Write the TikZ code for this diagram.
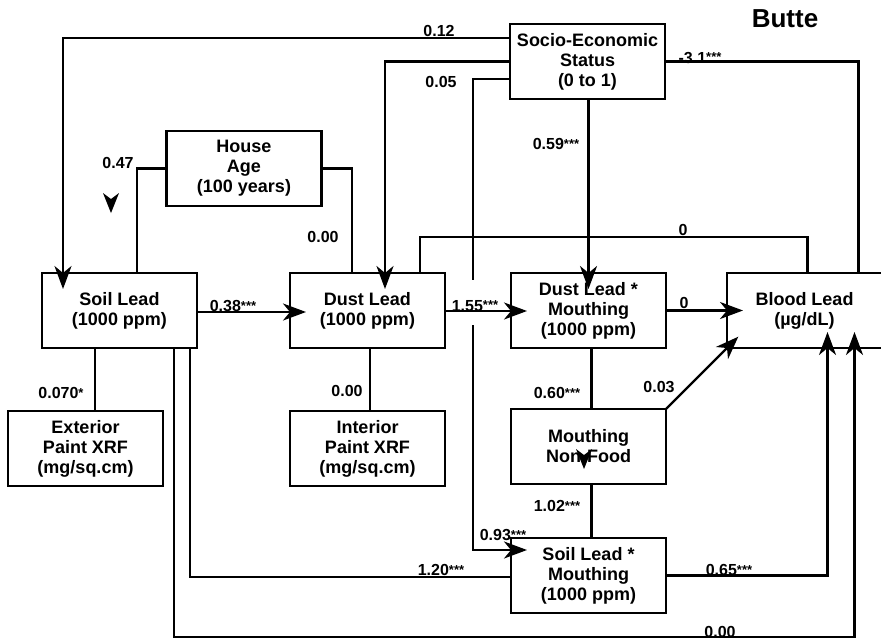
\documentclass[tikz,border=0pt]{standalone}
\usepackage{fontspec}
\setmainfont{Liberation Sans}
\usetikzlibrary{arrows.meta,positioning}
\newcommand{\sig}[1]{\raisebox{1.5pt}{\fontsize{13}{13}\selectfont #1}}

\begin{document}
\begin{tikzpicture}[
  x=1pt, y=-1pt,
  box/.style={draw,line width=2.4pt,minimum width=155pt,minimum height=75pt,inner sep=0pt,outer sep=0pt,align=center,font=\fontsize{18}{20}\selectfont\bfseries},
  lbl/.style={inner sep=0pt,font=\fontsize{16}{16}\selectfont\bfseries},
  ln/.style={line width=2.4pt},
  arr/.style={line width=2.4pt,-{Stealth[length=23pt,width=17pt,inset=7pt]},shorten >=-16pt},
  tiphead/.pic={\fill (-8,-20) -- (0,0) -- (8,-20) -- (0,-14) -- cycle;},
]
\useasboundingbox (0,0) rectangle (881,640);

\node[box] (soil) at (119.5,310.5) {Soil Lead\\(1000 ppm)};
\node[box, right=93pt of soil] (dust) {Dust Lead\\(1000 ppm)};
\node[box, right=66pt of dust] (dlm) {Dust Lead *\\Mouthing\\(1000 ppm)};
\node[box, right=61pt of dlm] (blood) {Blood Lead\\(µg/dL)};
\node[box] (ses) at (587.5,61.5) {Socio-Economic\\Status\\(0 to 1)};
\node[box] (age) at (244,168.5) {House\\Age\\(100 years)};
\node[box] (ext) at (85.5,448.5) {Exterior\\Paint XRF\\(mg/sq.cm)};
\node[box, below=63pt of dust] (int) {Interior\\Paint XRF\\(mg/sq.cm)};
\node[box, below=61pt of dlm] (mnf) {Mouthing\\Non-Food};
\node[box, below=54pt of mnf] (slm) {Soil Lead *\\Mouthing\\(1000 ppm)};
\node[font=\fontsize{26}{26}\selectfont\bfseries] (title) at (785,19) {Butte};

\draw[arr] ([yshift=23.5pt]ses.west) -| ([xshift=-56.5pt]soil.north);
\draw[arr] (ses.west) -| ([xshift=17.5pt]dust.north);
\draw[arr] ([yshift=-17.5pt]ses.west) -- ++(-37,0) -- ++(0,201) ++(0,45) |- ([yshift=25.5pt]slm.west);
\draw[arr] (ses.south -| dlm.north) -- (dlm.north);
\draw[ln] (ses.east) -| ([xshift=54pt]blood.north);
\draw[ln] (age.west) -| ([xshift=17.5pt]soil.north);
\draw[ln] (age.east) -| ([xshift=-15.5pt]dust.north);
\draw[arr] ([yshift=-1.5pt]soil.east) -- ([yshift=-1.5pt]dust.west);
\draw[arr] ([yshift=-0.5pt]dust.east) -- ([yshift=-0.5pt]dlm.west);
\draw[arr] (dlm.east) -- (dlm.east -| blood.west);
\draw[ln] ([xshift=52.5pt]dust.north) -- ++(0,-36) -| ([xshift=3pt]blood.north);
\draw[ln] ([xshift=2.5pt]dust.south) -- ([xshift=2.5pt]dust.south |- int.north);
\draw[ln] ([xshift=-24.5pt]soil.south) -- ([xshift=-24.5pt]soil.south |- ext.north);
\draw[ln] ([xshift=3pt]dlm.south) -- ([xshift=3pt]dlm.south |- mnf.north);
\draw[ln] ([xshift=3pt]mnf.south) -- ([xshift=3pt]mnf.south |- slm.north);
\draw[arr] (mnf.north east) -- (blood.south west);
\draw[ln] ([xshift=70.5pt]soil.south) |- ([yshift=-1.5pt]slm.west);
\draw[arr] ([xshift=54.5pt]soil.south) -- ++(0,289) -| ([xshift=50pt]blood.south);
\draw[arr] (slm.east) -| ([xshift=23pt]blood.south);

\pic at (111,213) {tiphead};
\pic at (584,469) {tiphead};

\node[lbl] (wSesSoil) at (439,31) {0.12};
\node[lbl] (wSesDust) at (441,82) {0.05};
\node[lbl] (wSesDlm) at (556,144) {0.59\sig{***}};
\node[lbl] (wSesBlood) at (700,58) {-3.1\sig{***}};
\node[lbl] (wAgeSoil) at (118,163) {0.47};
\node[lbl] (wAgeDust) at (323,237) {0.00};
\node[lbl] (wSoilDust) at (233,306) {0.38\sig{***}};
\node[lbl] (wDustDlm) at (475,306) {1.55\sig{***}};
\node[lbl] (wDlmBlood) at (684,303) {0};
\node[lbl] (wDustBlood) at (683,230) {0};
\node[lbl] (wSoilExt) at (61,393) {0.070\sig{*}};
\node[lbl] (wDustInt) at (347,391) {0.00};
\node[lbl] (wDlmMnf) at (557,393) {0.60\sig{***}};
\node[lbl] (wMnfBlood) at (659,387) {0.03};
\node[lbl] (wMnfSlm) at (557,506) {1.02\sig{***}};
\node[lbl] (wSesSlm) at (503,535) {0.93\sig{***}};
\node[lbl] (wSoilSlm) at (441,570) {1.20\sig{***}};
\node[lbl] (wSlmBlood) at (729,570) {0.65\sig{***}};
\node[lbl] (wSoilBlood) at (720,632) {0.00};
\end{tikzpicture}
\end{document}
